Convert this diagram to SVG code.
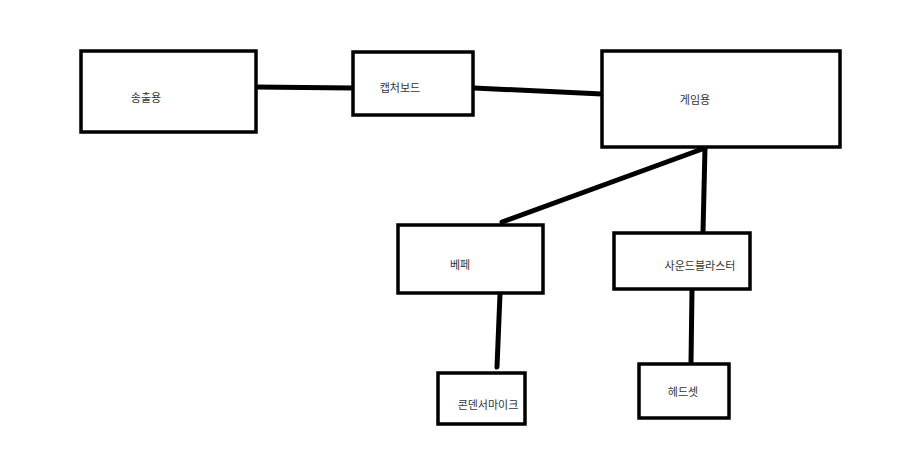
<svg xmlns="http://www.w3.org/2000/svg" width="900" height="452" viewBox="0 0 900 452">
<style>
.box{fill:#fff;stroke:#000;stroke-width:3.5}
.lbl{font-family:"Noto Sans CJK KR","Noto Sans",sans-serif;font-size:11px;fill:#333;text-anchor:middle;dominant-baseline:central}
.conn{stroke:#000;stroke-width:5;stroke-linecap:round;fill:none}
</style>
<rect width="900" height="452" fill="#fff"/>
<g id="connectors">
<line class="conn" x1="253" y1="87" x2="353" y2="88"/>
<line class="conn" x1="474" y1="88" x2="602" y2="94"/>
<line class="conn" x1="705" y1="148" x2="502" y2="222"/>
<line class="conn" x1="705" y1="148" x2="703" y2="232"/>
<line class="conn" x1="500" y1="294" x2="497" y2="367"/>
<line class="conn" x1="692" y1="290" x2="691" y2="363"/>
</g>
<g id="songchul">
<rect class="box" x="81" y="51" width="175" height="81"/>
<text class="lbl" x="146" y="97">송출용</text>
</g>
<g id="capture">
<rect class="box" x="353" y="52" width="120" height="63"/>
<text class="lbl" x="400" y="87">캡처보드</text>
</g>
<g id="game">
<rect class="box" x="602" y="51" width="238" height="96"/>
<text class="lbl" x="695" y="99">게임용</text>
</g>
<g id="bepe">
<rect class="box" x="398" y="225" width="145" height="68"/>
<text class="lbl" x="460" y="264">베페</text>
</g>
<g id="soundblaster">
<rect class="box" x="614" y="233" width="136" height="56"/>
<text class="lbl" x="700" y="265">사운드블라스터</text>
</g>
<g id="mic">
<rect class="box" x="438" y="373" width="87" height="51"/>
<text class="lbl" x="488" y="404">콘덴서마이크</text>
</g>
<g id="headset">
<rect class="box" x="639" y="364" width="90" height="54"/>
<text class="lbl" x="683" y="391">헤드셋</text>
</g>
</svg>
